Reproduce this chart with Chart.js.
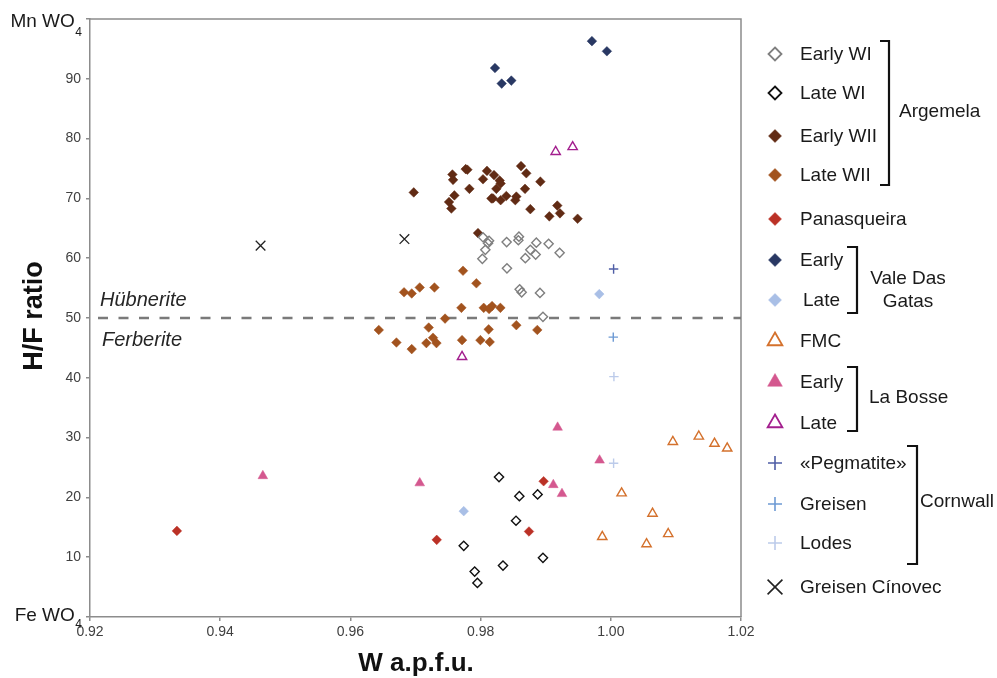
<!DOCTYPE html>
<html><head><meta charset="utf-8">
<script src="https://cdn.jsdelivr.net/npm/chart.js@4/dist/chart.umd.min.js"></script>
<style>html,body{margin:0;padding:0;background:#fff;}#wrap{position:relative;width:997px;height:678px;}</style>
</head><body><div id="wrap"><canvas id="c" width="997" height="678"></canvas></div>
<script>
// ---- axis ticks ----
const xTicks = [0.92, 0.94, 0.96, 0.98, 1.00, 1.02];
const xTickLabels = ['0.92', '0.94', '0.96', '0.98', '1.00', '1.02'];
const yTicks = [0, 10, 20, 30, 40, 50, 60, 70, 80, 90, 100];
const yTickLabels = ['', '10', '20', '30', '40', '50', '60', '70', '80', '90', ''];
const yEndLabels = { top: ['Mn WO', '4'], bottom: ['Fe WO', '4'] };
const boundaryValue = 50;
const boundaryLabels = ['Hübnerite', 'Ferberite'];
const xTitle = 'W a.p.f.u.';
const yTitle = 'H/F ratio';

// ---- series (W a.p.f.u., H/F ratio) ----
const earlyWI = [[0.98037,63.5],[0.98130,62.9],[0.98114,62.5],[0.98073,61.4],[0.98027,59.9],[0.98400,62.7],[0.98589,63.6],[0.98580,63.0],[0.98856,62.6],[0.99045,62.4],[0.98764,61.4],[0.98846,60.6],[0.98687,60.0],[0.99214,60.9],[0.98405,58.3],[0.98600,54.8],[0.98631,54.3],[0.98912,54.2],[0.98958,50.2]];
const lateWI = [[0.98283,23.4],[0.98595,20.2],[0.98876,20.5],[0.98544,16.1],[0.97741,11.9],[0.98958,9.9],[0.98344,8.6],[0.97909,7.6],[0.97951,5.7]];
const earlyWII = [[0.96973,71.0],[0.97567,74.0],[0.97577,73.1],[0.97771,74.9],[0.97797,74.8],[0.97597,70.5],[0.97515,69.4],[0.97551,68.3],[0.97828,71.6],[0.98098,74.6],[0.98037,73.2],[0.98206,73.9],[0.98293,73.0],[0.98308,72.5],[0.98242,71.6],[0.98166,70.0],[0.98190,70.0],[0.98308,69.7],[0.98395,70.4],[0.98533,69.7],[0.98549,70.3],[0.98621,75.4],[0.98702,74.2],[0.98682,71.6],[0.98764,68.2],[0.98918,72.8],[0.99056,67.0],[0.99178,68.8],[0.99219,67.5],[0.99490,66.6],[0.97960,64.2]];
const lateWII = [[0.97730,57.9],[0.97291,55.1],[0.97935,55.8],[0.97705,51.7],[0.98048,51.7],[0.98130,51.5],[0.98176,52.0],[0.98304,51.7],[0.97454,49.9],[0.96824,54.3],[0.96942,54.1],[0.97065,55.1],[0.97203,48.4],[0.98549,48.8],[0.98871,48.0],[0.98124,48.1],[0.96707,45.9],[0.96942,44.8],[0.97167,45.8],[0.97269,46.7],[0.97322,45.8],[0.97715,46.3],[0.97997,46.3],[0.98140,46.0],[0.96436,48.0]];
const panasqueira = [[0.93335,14.4],[0.97326,12.9],[0.98968,22.7],[0.98743,14.3]];
const vdgEarly = [[0.98221,91.8],[0.98324,89.2],[0.98472,89.7],[0.99710,96.3],[0.99940,94.6]];
const vdgLate = [[0.97741,17.7],[0.99823,54.0]];
const fmc = [[1.00953,29.3],[1.01352,30.2],[1.01593,29.0],[1.01788,28.2],[1.00166,20.7],[1.00641,17.3],[0.99869,13.4],[1.00549,12.2],[1.00882,13.9]];
const laBosseEarly = [[0.99183,31.7],[0.99828,26.2],[0.99117,22.1],[0.99250,20.6],[0.94655,23.6],[0.97065,22.4]];
const laBosseLate = [[0.99153,77.8],[0.99414,78.6],[0.97715,43.5]];
const cornwallPegmatite = [[1.00043,58.2]];
const cornwallGreisen = [[1.00038,46.8]];
const cornwallLodes = [[1.00043,25.7],[1.00048,40.2]];
const greisenCinovec = [[0.94620,62.1],[0.96830,63.2]];

// ---- styles ----
const S = [
  {label:'Early WI', data:earlyWI, shape:'rectRot', r:4.6, fill:'rgba(0,0,0,0)', stroke:'#7f7f7f', bw:1.4, lr:6.5, ly:54},
  {label:'Late WI', data:lateWI, shape:'rectRot', r:4.6, fill:'rgba(0,0,0,0)', stroke:'#111111', bw:1.4, lr:6.5, ly:93},
  {label:'Early WII', data:earlyWII, shape:'rectRot', r:4.8, fill:'#612b14', stroke:'#612b14', bw:0.5, lr:6.5, ly:136},
  {label:'Late WII', data:lateWII, shape:'rectRot', r:4.8, fill:'#a2531e', stroke:'#a2531e', bw:0.5, lr:6.5, ly:175},
  {label:'Panasqueira', data:panasqueira, shape:'rectRot', r:4.8, fill:'#bb3126', stroke:'#bb3126', bw:0.5, lr:6.5, ly:219},
  {label:'Early', data:vdgEarly, shape:'rectRot', r:4.8, fill:'#293863', stroke:'#293863', bw:0.5, lr:6.5, ly:260},
  {label:'Late', data:vdgLate, shape:'rectRot', r:4.8, fill:'#a9bfe6', stroke:'#a9bfe6', bw:0.5, lr:6.5, ly:300, tx:803},
  {label:'FMC', data:fmc, shape:'triangle', r:5.4, fill:'rgba(0,0,0,0)', stroke:'#d4712c', bw:1.4, lr:8.5, ly:341},
  {label:'Early', data:laBosseEarly, shape:'triangle', r:5.6, fill:'#d4588f', stroke:'#d4588f', bw:0.5, lr:8.5, ly:382},
  {label:'Late', data:laBosseLate, shape:'triangle', r:5.4, fill:'rgba(0,0,0,0)', stroke:'#a31f8e', bw:1.4, lr:8.5, ly:423},
  {label:'«Pegmatite»', data:cornwallPegmatite, shape:'cross', r:4.7, fill:'#4f5ea6', stroke:'#4f5ea6', bw:1.4, lr:7, ly:463},
  {label:'Greisen', data:cornwallGreisen, shape:'cross', r:4.7, fill:'#6d9ad4', stroke:'#6d9ad4', bw:1.4, lr:7, ly:504},
  {label:'Lodes', data:cornwallLodes, shape:'cross', r:4.7, fill:'#bccbea', stroke:'#bccbea', bw:1.4, lr:7, ly:543},
  {label:'Greisen Cínovec', data:greisenCinovec, shape:'crossRot', r:6.8, fill:'#222', stroke:'#222', bw:1.3, lr:10.5, ly:587}
];

const FONT = "'Liberation Sans', Arial, Helvetica, sans-serif";

function marker(ctx, shape, x, y, r, fill, stroke, bw) {
  ctx.save();
  ctx.fillStyle = fill; ctx.strokeStyle = stroke; ctx.lineWidth = bw;
  ctx.beginPath();
  if (shape === 'rectRot') {
    ctx.moveTo(x, y - r); ctx.lineTo(x + r, y); ctx.lineTo(x, y + r); ctx.lineTo(x - r, y); ctx.closePath();
    ctx.fill(); ctx.stroke();
  } else if (shape === 'triangle') {
    const a = 2 * Math.PI / 3;
    ctx.moveTo(x, y - r);
    ctx.lineTo(x + Math.sin(a) * r, y - Math.cos(a) * r);
    ctx.lineTo(x + Math.sin(2 * a) * r, y - Math.cos(2 * a) * r);
    ctx.closePath(); ctx.fill(); ctx.stroke();
  } else if (shape === 'cross') {
    ctx.moveTo(x - r, y); ctx.lineTo(x + r, y); ctx.moveTo(x, y - r); ctx.lineTo(x, y + r); ctx.stroke();
  } else if (shape === 'crossRot') {
    const d = r * Math.SQRT1_2;
    ctx.moveTo(x - d, y - d); ctx.lineTo(x + d, y + d); ctx.moveTo(x - d, y + d); ctx.lineTo(x + d, y - d); ctx.stroke();
  }
  ctx.restore();
}

const decorPlugin = {
  id: 'decor',
  beforeDatasetsDraw(chart) {
    const {ctx, chartArea: a, scales} = chart;
    ctx.save();
    ctx.strokeStyle = '#8c8c8c'; ctx.lineWidth = 1.5;
    ctx.beginPath(); ctx.moveTo(a.left, a.top); ctx.lineTo(a.right, a.top); ctx.lineTo(a.right, a.bottom); ctx.stroke();
    const yb = scales.y.getPixelForValue(boundaryValue);
    ctx.strokeStyle = '#7a7a7a'; ctx.lineWidth = 2.6; ctx.setLineDash([10, 10.5]);
    ctx.beginPath(); ctx.moveTo(a.left + 8, yb); ctx.lineTo(a.right, yb); ctx.stroke();
    ctx.restore();
  },
  afterDraw(chart) {
    const {ctx, scales} = chart;
    ctx.save();
    // Y end labels with subscripts
    const drawEnd = (parts, yv, mainOff, subOff) => {
      const y = scales.y.getPixelForValue(yv);
      ctx.fillStyle = '#1a1a1a';
      ctx.textBaseline = 'middle';
      ctx.font = '12px ' + FONT;
      const w4 = ctx.measureText(parts[1]).width;
      const right = 82;
      ctx.textAlign = 'left';
      ctx.fillText(parts[1], right - w4, y + subOff);
      ctx.font = '19px ' + FONT;
      ctx.textAlign = 'right';
      ctx.fillText(parts[0], right - w4 - 0.5, y + mainOff);
    };
    drawEnd(yEndLabels.top, 100, 3, 14);
    drawEnd(yEndLabels.bottom, 0, -1.5, 8);
    // axis titles
    ctx.fillStyle = '#111';
    ctx.font = 'bold 26px ' + FONT;
    ctx.textAlign = 'center'; ctx.textBaseline = 'middle';
    ctx.fillText(xTitle, 416, 664);
    ctx.save(); ctx.translate(35, 316); ctx.rotate(-Math.PI / 2);
    ctx.font = 'bold 27px ' + FONT; ctx.fillText(yTitle, 0, 0); ctx.restore();
    // boundary labels
    const yb = scales.y.getPixelForValue(boundaryValue);
    ctx.font = 'italic 20px ' + FONT; ctx.fillStyle = '#262626';
    ctx.textAlign = 'left'; ctx.textBaseline = 'alphabetic';
    ctx.fillText(boundaryLabels[0], 100, yb - 12);
    ctx.fillText(boundaryLabels[1], 102, yb + 28);
    // legend
    ctx.font = '19px ' + FONT; ctx.fillStyle = '#1a1a1a'; ctx.textBaseline = 'middle';
    S.forEach(s => {
      marker(ctx, s.shape, 775, s.ly, s.lr, s.fill, s.stroke, s.shape === 'cross' || s.shape === 'crossRot' ? 1.6 : (s.bw > 1 ? 1.8 : 0.5));
      ctx.fillStyle = '#1a1a1a'; ctx.textAlign = 'left';
      ctx.fillText(s.label, s.tx || 800, s.ly + 1);
    });
    // brackets
    ctx.strokeStyle = '#111'; ctx.lineWidth = 2.2;
    const bracket = (x, y1, y2, w) => {
      ctx.beginPath(); ctx.moveTo(x - w, y1); ctx.lineTo(x, y1); ctx.lineTo(x, y2); ctx.lineTo(x - w, y2); ctx.stroke();
    };
    bracket(889, 41, 185, 9);
    bracket(857, 247, 313, 10);
    bracket(857, 367, 431, 10);
    bracket(917, 446, 564, 10);
    ctx.textAlign = 'left';
    ctx.fillText('Argemela', 899, 112);
    ctx.fillText('La Bosse', 869, 398);
    ctx.fillText('Cornwall', 920, 502);
    ctx.textAlign = 'center';
    ctx.fillText('Vale Das', 908, 279);
    ctx.fillText('Gatas', 908, 302);
    ctx.restore();
  }
};

const datasets = S.map(s => ({
  label: s.label,
  data: s.data.map(p => ({x: p[0], y: p[1]})),
  pointStyle: s.shape,
  pointRadius: s.r,
  pointBackgroundColor: s.fill,
  pointBorderColor: s.stroke,
  pointBorderWidth: s.bw,
  showLine: false
}));

new Chart(document.getElementById('c'), {
  type: 'scatter',
  data: { datasets },
  plugins: [decorPlugin],
  options: {
    responsive: false,
    animation: false,
    events: [],
    devicePixelRatio: 1,
    layout: { padding: { left: 0, right: 256, top: 19, bottom: 0 } },
    plugins: { legend: { display: false }, tooltip: { enabled: false } },
    scales: {
      x: {
        type: 'linear', min: 0.92, max: 1.02,
        afterBuildTicks: s => { s.ticks = xTicks.map(v => ({value: v})); },
        afterFit: s => { s.height = 61; },
        ticks: { callback: (v, i) => xTickLabels[i], font: { family: FONT, size: 14 }, color: '#404040', padding: 3, maxRotation: 0, autoSkip: false },
        grid: { drawOnChartArea: false, drawTicks: true, tickLength: 4, color: '#8c8c8c', lineWidth: 1.5 },
        border: { color: '#8c8c8c', width: 1.5 }
      },
      y: {
        type: 'linear', min: 0, max: 100,
        afterBuildTicks: s => { s.ticks = yTicks.map(v => ({value: v})); },
        afterFit: s => { s.width = 90; },
        ticks: { callback: (v, i) => yTickLabels[i], font: { family: FONT, size: 14 }, color: '#404040', padding: 5, autoSkip: false },
        grid: { drawOnChartArea: false, drawTicks: true, tickLength: 4, color: '#8c8c8c', lineWidth: 1.5 },
        border: { color: '#8c8c8c', width: 1.5 }
      }
    }
  }
});
</script></body></html>
